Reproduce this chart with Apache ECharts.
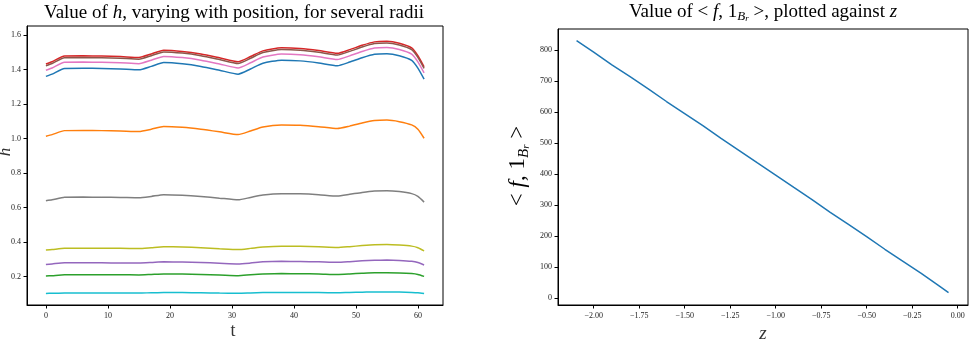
<!DOCTYPE html>
<html>
<head>
<meta charset="utf-8">
<script src="https://cdn.jsdelivr.net/npm/echarts@6/dist/echarts.min.js"></script>
<style>
  html, body { margin: 0; padding: 0; background: #fff; }
  #chart { width: 976px; height: 342px; }
</style>
</head>
<body>
<div id="chart"></div>
<script>
const tPos = [0, 1, 3, 6, 9, 12, 15, 17, 19, 22, 25, 28, 31, 33, 35, 38, 41, 44, 47, 49, 51, 53, 55, 57, 59, 60, 61];

const hBlue   = [1.360,1.373,1.406,1.407,1.406,1.403,1.398,1.418,1.440,1.433,1.418,1.396,1.373,1.403,1.436,1.454,1.450,1.438,1.422,1.443,1.468,1.488,1.491,1.480,1.453,1.408,1.344];
const hOrange = [1.014,1.023,1.046,1.047,1.046,1.044,1.041,1.054,1.070,1.065,1.054,1.039,1.023,1.044,1.067,1.079,1.077,1.069,1.058,1.072,1.090,1.104,1.107,1.098,1.079,1.054,1.002];
const hGreen  = [0.204,0.206,0.211,0.211,0.211,0.211,0.210,0.213,0.216,0.215,0.213,0.210,0.206,0.211,0.215,0.218,0.217,0.216,0.213,0.216,0.220,0.223,0.223,0.222,0.218,0.213,0.202];
const hRed    = [1.432,1.445,1.478,1.479,1.478,1.475,1.470,1.490,1.512,1.505,1.490,1.468,1.445,1.475,1.508,1.526,1.522,1.510,1.494,1.515,1.540,1.560,1.563,1.552,1.525,1.480,1.416];
const hPurple = [0.271,0.274,0.280,0.280,0.280,0.279,0.279,0.282,0.286,0.285,0.282,0.278,0.274,0.279,0.286,0.289,0.288,0.286,0.283,0.287,0.292,0.295,0.296,0.294,0.289,0.282,0.268];
const hBrown  = [1.422,1.435,1.468,1.469,1.468,1.465,1.460,1.480,1.502,1.495,1.480,1.458,1.435,1.465,1.498,1.516,1.512,1.500,1.484,1.505,1.530,1.550,1.553,1.542,1.515,1.470,1.406];
const hPink   = [1.396,1.409,1.442,1.443,1.442,1.439,1.434,1.454,1.476,1.469,1.454,1.432,1.409,1.439,1.472,1.490,1.486,1.474,1.458,1.479,1.504,1.524,1.527,1.516,1.489,1.444,1.380];
const hGray   = [0.640,0.645,0.660,0.661,0.660,0.659,0.657,0.665,0.675,0.672,0.665,0.655,0.645,0.659,0.673,0.681,0.680,0.675,0.667,0.677,0.688,0.696,0.698,0.693,0.681,0.665,0.632];
const hOlive  = [0.354,0.357,0.365,0.365,0.365,0.364,0.363,0.368,0.373,0.372,0.368,0.362,0.357,0.364,0.372,0.377,0.376,0.373,0.369,0.374,0.380,0.385,0.386,0.383,0.377,0.368,0.350];
const hCyan   = [0.103,0.104,0.106,0.106,0.106,0.106,0.105,0.107,0.108,0.108,0.107,0.105,0.104,0.106,0.108,0.109,0.109,0.108,0.107,0.109,0.110,0.112,0.112,0.111,0.109,0.107,0.102];

const hSeries = [hBlue, hOrange, hGreen, hRed, hPurple, hBrown, hPink, hGray, hOlive, hCyan];
const tab10 = ['#1f77b4','#ff7f0e','#2ca02c','#d62728','#9467bd','#8c564b','#e377c2','#7f7f7f','#bcbd22','#17becf'];

// right panel
const zPos = [-2.094,-2.0,-1.9,-1.8,-1.7,-1.6,-1.5,-1.4,-1.3,-1.2,-1.1,-1.0,-0.9,-0.8,-0.7,-0.6,-0.5,-0.4,-0.3,-0.2,-0.1,-0.05];
const fVals = [830,793,752,714,675,634,595,556,515,476,436,397,357,318,277,238,199,158,119,80,39,18];

const tTicks = [0, 10, 20, 30, 40, 50, 60];
const hTicks = [0.2, 0.4, 0.6, 0.8, 1.0, 1.2, 1.4, 1.6];
const zTicks = [-2.0, -1.75, -1.5, -1.25, -1.0, -0.75, -0.5, -0.25, 0.0];
const fTicks = [0, 100, 200, 300, 400, 500, 600, 700, 800];

const SERIF = "'Liberation Serif', 'DejaVu Serif', serif";
const minus = s => s.replace('-', '\u2212');

function axisCommon(ticks, fmt, isX) {
  return {
    axisLine: { show: true, onZero: false, lineStyle: { color: '#000', width: 1 } },
    axisTick: { show: true, inside: false, length: 3.5, lineStyle: { color: '#000', width: 1 }, customValues: ticks },
    axisLabel: {
      customValues: ticks, formatter: fmt, fontFamily: SERIF, fontSize: 8, color: '#222',
      margin: isX ? 7 : 6
    },
    splitLine: { show: false }
  };
}

const chart = echarts.init(document.getElementById('chart'));
chart.setOption({
  animation: false,
  grid: [
    { left: 27, top: 26, width: 416, height: 279, show: true, borderColor: '#000', borderWidth: 1 },
    { left: 558, top: 29, width: 410, height: 276, show: true, borderColor: '#000', borderWidth: 1 }
  ],
  xAxis: [
    Object.assign({ type: 'value', gridIndex: 0, min: -3.05, max: 64.05 }, axisCommon(tTicks, v => String(v), true)),
    Object.assign({ type: 'value', gridIndex: 1, min: -2.196, max: 0.057 }, axisCommon(zTicks, v => minus(v.toFixed(2)), true))
  ],
  yAxis: [
    Object.assign({ type: 'value', gridIndex: 0, min: 0.036, max: 1.652 }, axisCommon(hTicks, v => v.toFixed(1), false)),
    Object.assign({ type: 'value', gridIndex: 1, min: -21.6, max: 867.6 }, axisCommon(fTicks, v => String(v), false))
  ],
  series: hSeries.map((vals, i) => ({
    type: 'line', xAxisIndex: 0, yAxisIndex: 0, showSymbol: false, smooth: 0.2,
    lineStyle: { color: tab10[i], width: 1.5 },
    data: tPos.map((t, k) => [t, vals[k]])
  })).concat([{
    type: 'line', xAxisIndex: 1, yAxisIndex: 1, showSymbol: false,
    lineStyle: { color: '#1f77b4', width: 1.5 },
    data: zPos.map((z, k) => [z, fVals[k]])
  }]),
  graphic: [
    {
      type: 'text', x: 234, y: 13,
      style: {
        text: '{n|Value of }{i|h}{n|, varying with position, for several radii}',
        align: 'center', verticalAlign: 'middle', textAlign: 'center', textVerticalAlign: 'middle',
        rich: {
          n: { fontFamily: SERIF, fontSize: 19, color: '#444' },
          i: { fontFamily: SERIF, fontSize: 19, fontStyle: 'italic', color: '#444' }
        }
      }
    },
    {
      type: 'text', x: 763, y: 12,
      style: {
        text: '{n|Value of < }{i|f}{n|, 1}{s|B}{ss|r}{n| >, plotted against }{i|z}',
        align: 'center', verticalAlign: 'middle', textAlign: 'center', textVerticalAlign: 'middle',
        rich: {
          n: { fontFamily: SERIF, fontSize: 19, color: '#444', lineHeight: 23 },
          i: { fontFamily: SERIF, fontSize: 19, fontStyle: 'italic', color: '#444', lineHeight: 23 },
          s: { fontFamily: SERIF, fontSize: 13, fontStyle: 'italic', color: '#444', lineHeight: 13, verticalAlign: 'bottom' },
          ss: { fontFamily: SERIF, fontSize: 9, fontStyle: 'italic', color: '#444', lineHeight: 8, verticalAlign: 'bottom' }
        }
      }
    },
    {
      type: 'text', x: 233, y: 331,
      style: { text: 't', font: '18px ' + SERIF, fill: '#333', align: 'center', verticalAlign: 'middle', textAlign: 'center', textVerticalAlign: 'middle' }
    },
    {
      type: 'text', x: 763, y: 334,
      style: { text: 'z', font: 'italic 19px ' + SERIF, fill: '#333', align: 'center', verticalAlign: 'middle', textAlign: 'center', textVerticalAlign: 'middle' }
    },
    {
      type: 'text', x: 6, y: 152, rotation: Math.PI / 2,
      style: { text: 'h', font: 'italic 17px ' + SERIF, fill: '#333', align: 'center', verticalAlign: 'middle', textAlign: 'center', textVerticalAlign: 'middle' }
    },
    {
      type: 'text', x: 518, y: 166, rotation: Math.PI / 2,
      style: {
        text: '{n|< }{i|f}{n|, 1}{s|B}{ss|r}{n| >}',
        align: 'center', verticalAlign: 'middle', textAlign: 'center', textVerticalAlign: 'middle',
        rich: {
          n: { fontFamily: SERIF, fontSize: 23, color: '#444', lineHeight: 28 },
          i: { fontFamily: SERIF, fontSize: 23, fontStyle: 'italic', color: '#444', lineHeight: 28 },
          s: { fontFamily: SERIF, fontSize: 15, fontStyle: 'italic', color: '#444', lineHeight: 15, verticalAlign: 'bottom' },
          ss: { fontFamily: SERIF, fontSize: 11, fontStyle: 'italic', color: '#444', lineHeight: 10, verticalAlign: 'bottom' }
        }
      }
    }
  ]
});
</script>
</body>
</html>
